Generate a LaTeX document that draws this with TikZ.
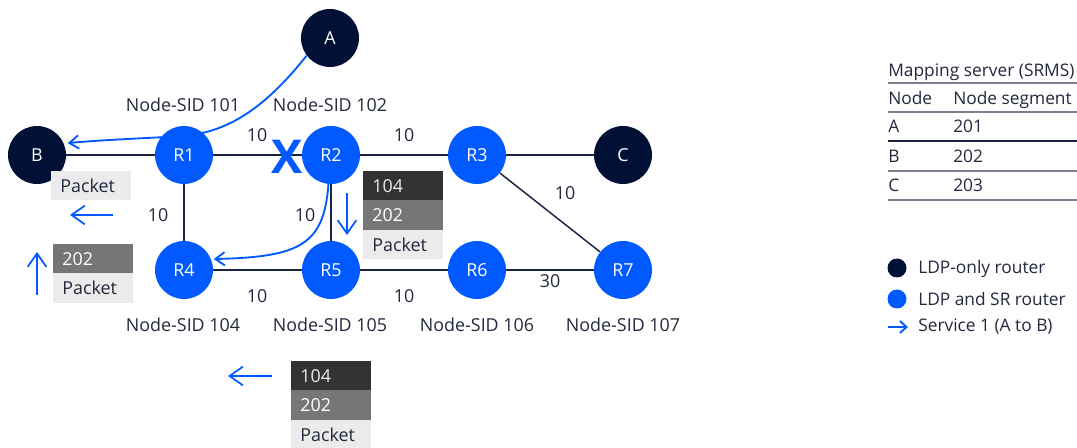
\documentclass[tikz,border=0pt]{standalone}
\usepackage{fontspec}
\setmainfont{Open Sans}
\usetikzlibrary{arrows.meta,backgrounds}
\definecolor{navy}{HTML}{001135}
\definecolor{srblue}{HTML}{005AFF}
\definecolor{inkc}{HTML}{23283D}
\definecolor{linkc}{HTML}{1A2340}
\definecolor{boxdark}{HTML}{333333}
\definecolor{boxmid}{HTML}{767676}
\definecolor{boxpale}{HTML}{EBEBEB}
\definecolor{rulec}{HTML}{7A8090}
\begin{document}
\begin{tikzpicture}[x=0.75pt,y=-0.75pt,
  font=\fontsize{13.4}{15}\selectfont, text=inkc,
  router/.style={circle, minimum size=43.5pt, inner sep=0pt, text=white},
  ldp/.style={router, fill=navy},
  srr/.style={router, fill=srblue},
  link/.style={draw=linkc, line width=1.1pt},
  svc/.style={draw=srblue, line width=1.4pt, -{Straight Barb[length=7pt,width=10pt,line width=1.4pt]}},
  bigarrow/.style={draw=srblue, line width=1.3pt, -{Straight Barb[length=10pt,width=14pt,line width=1.3pt]}},
  lbl/.style={anchor=base, inner sep=0pt},
  pkt/.style={anchor=north west, minimum height=22pt, text width=46pt, inner xsep=7pt, inner ysep=0pt, outer sep=0pt, align=left},
  cell/.style={anchor=base west, inner sep=0pt, font=\fontsize{13}{15}\selectfont},
  rule/.style={draw=rulec, line width=1.1pt}]
\useasboundingbox (0,0) rectangle (1077,448);

% routers
\node[ldp] (A) at (330,38) {A};
\node[ldp] (B) at (37,155) {B};
\node[srr] (R1) at (184,155) {R1};
\node[srr] (R2) at (331,155) {R2};
\node[srr] (R3) at (477,155) {R3};
\node[ldp] (C) at (623,155) {C};
\node[srr] (R4) at (184,270) {R4};
\node[srr] (R5) at (331,270) {R5};
\node[srr] (R6) at (477,270) {R6};
\node[srr] (R7) at (623,270) {R7};

% links and service paths behind the routers
\begin{scope}[on background layer]
  \draw[link] (B) -- (R1);
  \draw[link] (R1) -- (R2);
  \draw[link] (R2) -- (R3);
  \draw[link] (R3) -- (C);
  \draw[link] (R1) -- (R4);
  \draw[link] (R2) -- (R5);
  \draw[link] (R4) -- (R5);
  \draw[link] (R5) -- (R6);
  \draw[link] (R6) -- (R7);
  \draw[link] (R3) -- (R7);
  \draw[svc] (A.217) .. controls (262,112) and (225,132) .. (184,136)
             .. controls (150,138) and (100,140) .. ([xshift=3pt]B.24);
  \draw[svc] (R2.265) .. controls (324,245) and (300,257) .. ([xshift=2pt]R4.22);
\end{scope}

% link failure
\node[font=\bfseries\fontsize{35}{35}\selectfont, text=srblue, inner sep=0pt] (fail) at (287,157) {X};

% node SIDs
\node[lbl] (sid1) at (183,112) {Node-SID 101};
\node[lbl] (sid2) at (330,112) {Node-SID 102};
\node[lbl] (sid4) at (183,332) {Node-SID 104};
\node[lbl] (sid5) at (330,332) {Node-SID 105};
\node[lbl] (sid6) at (477,332) {Node-SID 106};
\node[lbl] (sid7) at (623,332) {Node-SID 107};

% metrics
\node[lbl] (m12) at (257,142) {10};
\node[lbl] (m23) at (404,142) {10};
\node[lbl] (m14) at (158,222) {10};
\node[lbl] (m25) at (305,222) {10};
\node[lbl] (m45) at (257,303) {10};
\node[lbl] (m56) at (404,303) {10};
\node[lbl] (m37) at (565,200) {10};
\node[lbl] (m67) at (550,288) {30};

% label stacks
\node[pkt, fill=boxpale] (p1) at (51,171) {Packet};
\node[pkt, fill=boxmid, text=white] (p2a) at (53,244) {202};
\node[pkt, fill=boxpale] (p2b) at (p2a.south west) {Packet};
\node[pkt, fill=boxdark, text=white!92!black] (p3a) at (363,171) {104};
\node[pkt, fill=boxmid, text=white] (p3b) at (p3a.south west) {202};
\node[pkt, fill=boxpale] (p3c) at (p3b.south west) {Packet};
\node[pkt, fill=boxdark, text=white!92!black] (p4a) at (291,361) {104};
\node[pkt, fill=boxmid, text=white] (p4b) at (p4a.south west) {202};
\node[pkt, fill=boxpale] (p4c) at (p4b.south west) {Packet};

% direction arrows
\coordinate (d1s) at (113,215); \coordinate (d1e) at (70,215);
\coordinate (d2s) at (37,295);  \coordinate (d2e) at (37,252);
\coordinate (d3s) at (347,193); \coordinate (d3e) at (347,235);
\coordinate (d4s) at (272,376); \coordinate (d4e) at (228,376);
\draw[bigarrow] (d1s) -- (d1e);
\draw[bigarrow] (d2s) -- (d2e);
\draw[bigarrow] (d3s) -- (d3e);
\draw[bigarrow] (d4s) -- (d4e);

% mapping server table
\node[cell] (th) at (888,77) {Mapping server (SRMS)};
\node[cell] (h1) at (888,105) {Node};
\node[cell] (h2) at (953,105) {Node segment};
\node[cell] (ra) at (888,133) {A};
\node[cell] (va) at (953,133) {201};
\node[cell] (rb) at (888,163) {B};
\node[cell] (vb) at (953,163) {202};
\node[cell] (rc) at (888,192) {C};
\node[cell] (vc) at (953,192) {203};
\coordinate (t0l) at (888,83);  \coordinate (t0r) at (1077,83);
\coordinate (t1l) at (888,112); \coordinate (t1r) at (1077,112);
\coordinate (t2l) at (888,141); \coordinate (t2r) at (1077,141);
\coordinate (t3l) at (888,171); \coordinate (t3r) at (1077,171);
\coordinate (t4l) at (888,200); \coordinate (t4r) at (1077,200);
\draw[rule] (t0l) -- (t0r);
\draw[rule] (t1l) -- (t1r);
\draw[rule, draw=linkc] (t2l) -- (t2r);
\draw[rule] (t3l) -- (t3r);
\draw[rule] (t4l) -- (t4r);

% legend
\node[circle, fill=navy, minimum size=14.25pt, inner sep=0pt] (lg1) at (897,268) {};
\node[cell] (lt1) at (918,274) {LDP-only router};
\node[circle, fill=srblue, minimum size=14.25pt, inner sep=0pt] (lg2) at (897,299) {};
\node[cell] (lt2) at (918,306) {LDP and SR router};
\coordinate (lg3s) at (888,327); \coordinate (lg3e) at (908,327);
\draw[svc, -{Straight Barb[length=5pt,width=9pt,line width=1.4pt]}] (lg3s) -- (lg3e);
\node[cell] (lt3) at (918,332) {Service 1 (A to B)};
\end{tikzpicture}
\end{document}
